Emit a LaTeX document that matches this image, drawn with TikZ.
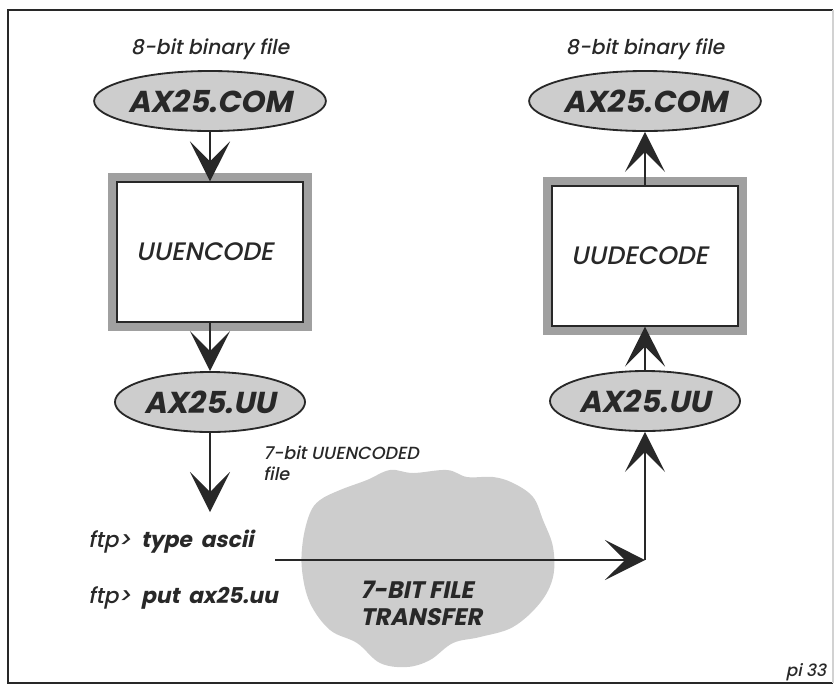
\documentclass[tikz,border=0pt]{standalone}
\usepackage{fontspec}
\setmainfont{Poppins}[UprightFont={* Medium}, BoldFont={* Bold}, FakeSlant=0.2]
\usetikzlibrary{shapes.geometric, arrows.meta, positioning}
\definecolor{ink}{RGB}{40, 40, 40}
\definecolor{dotgray}{RGB}{205, 205, 205}
\definecolor{framegray}{RGB}{160, 160, 160}

\begin{document}
\begin{tikzpicture}[
  x=0.025cm, y=-0.025cm,
  file/.style={ellipse, draw=ink, line width=1.3pt, fill=dotgray, text=ink,
               minimum width=4.75cm, minimum height=1.5cm, inner sep=0pt,
               font=\fontsize{21.5}{24}\selectfont\bfseries},
  codebox/.style={rectangle, draw=ink, line width=1.3pt, fill=white, text=ink,
                  preaction={draw=framegray, line width=0.45cm},
                  minimum width=4.65cm, minimum height=3.48cm,
                  inner xsep=0.48cm, text width=3.69cm, align=left,
                  font=\fontsize{18}{21}\selectfont},
  note/.style={text=ink, inner sep=0pt, align=left,
               font=\fontsize{14.5}{17}\selectfont},
  cmd/.style={text=ink, inner sep=0pt, anchor=west,
              font=\fontsize{15.5}{18}\selectfont},
  arr/.style={-{Stealth[length=1cm, width=1cm, inset=0.5cm]}, line width=2pt, ink}
]
  \useasboundingbox (0,0) rectangle (840,686);
  % frame
  \draw[ink, line width=2pt] (833,10) -- (8,10) -- (8,683) -- (833,683);
  \draw[gray!35, line width=0.8pt] (833,10) -- (833,683);
  % cloud
  \fill[dotgray] plot[smooth cycle, tension=0.6] coordinates {
    (310,513) (303,540) (302,570) (310,603) (330,630) (357,643) (380,663)
    (407,667) (430,660) (453,643) (480,637) (513,627) (540,603) (553,577)
    (553,547) (543,520) (533,497) (513,483) (493,477) (467,477) (447,470)
    (413,473) (390,470) (367,480) (340,490) (320,500)};

  % sender side
  \node[file] (comL) at (210,101) {AX25.COM};
  \node[note, above=0.25cm of comL] (binL) {8-bit binary file};
  \node[codebox] (encL) at (210,252) {UUENCODE};
  \node[file] (uuL) at (210,402) {AX25.UU};
  \node[note, anchor=west, font=\fontsize{12.5}{15}\selectfont] (sevenbit) at (263,463) {7-bit UUENCODED\\file};
  \coordinate (cmdTip) at (210,512);
  \node[cmd] (ftpType) at (88,542) {ftp>\hspace{0.45em}\textbf{type\hspace{0.4em}ascii}};
  \node[cmd] (ftpPut) at (88,598) {ftp>\hspace{0.45em}\textbf{put\hspace{0.4em}ax25.uu}};
  \node[text=ink, inner sep=0pt, anchor=west, align=left,
        font=\fontsize{17}{19}\selectfont\bfseries] (xfer) at (360,603) {7-BIT FILE\\TRANSFER};

  % receiver side
  \node[file] (comR) at (645,101) {AX25.COM};
  \node[note, above=0.25cm of comR] (binR) {8-bit binary file};
  \node[codebox] (decR) at (645,256) {UUDECODE};
  \node[file] (uuR) at (645,401) {AX25.UU};
  \coordinate (sendStart) at (275,560);
  \coordinate (turn) at (645,560);
  \node[text=ink, inner sep=0pt, font=\fontsize{12}{14}\selectfont] (tag) at (806,672) {pi 33};

  \draw[arr] (comL) -- (encL);
  \draw[arr] (encL) -- (uuL);
  \draw[arr] (uuL) -- (cmdTip);
  \draw[arr] (sendStart) -- (turn);
  \draw[arr] (turn) -- (uuR);
  \draw[arr] (uuR) -- (decR);
  \draw[arr] (decR) -- (comR);
\end{tikzpicture}
\end{document}
